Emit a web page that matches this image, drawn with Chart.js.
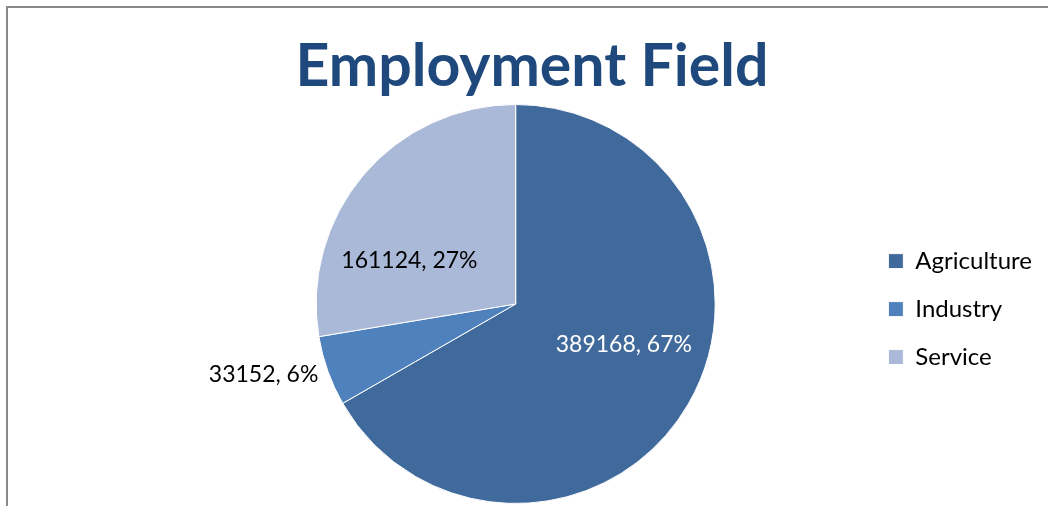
<!DOCTYPE html>
<html>
<head>
<meta charset="utf-8">
<title>Employment Field</title>
<script src="https://cdn.jsdelivr.net/npm/chart.js@4.4.1/dist/chart.umd.min.js"></script>
<style>
  html, body { margin: 0; padding: 0; background: #fff; overflow: hidden; }
  .frame { position: relative; width: 1048px; height: 506px; overflow: hidden; }
  /* chart border, only the top and left edges fall inside the view */
  .frame::before {
    content: "";
    position: absolute;
    left: 6px;
    top: 6px;
    width: 1100px;
    height: 600px;
    border-left: 2px solid #898989;
    border-top: 2px solid #898989;
  }
  canvas { position: absolute; left: 0; top: 0; }
</style>
</head>
<body>
<div class="frame"><canvas id="chart" width="1048" height="506"></canvas></div>
<script>
const categories = ['Agriculture', 'Industry', 'Service'];
const workers = [389168, 33152, 161124];
const sliceColors = ['#416A9C', '#4F81BD', '#AAB9D7'];

// whole percentages that still add up to 100 (largest remainder)
function wholePercents(values) {
  const total = values.reduce((a, b) => a + b, 0);
  const raw = values.map(v => v / total * 100);
  const out = raw.map(Math.floor);
  const left = 100 - out.reduce((a, b) => a + b, 0);
  raw.map((r, i) => [r - out[i], i])
    .sort((a, b) => b[0] - a[0])
    .slice(0, left)
    .forEach(([, i]) => out[i]++);
  return out;
}

// big heading, centred on the whole chart frame rather than on the pie
const heading = {
  id: 'heading',
  afterDraw(chart, args, opts) {
    const ctx = chart.ctx;
    ctx.save();
    ctx.font = opts.font;
    ctx.fillStyle = opts.color;
    ctx.textAlign = 'center';
    ctx.textBaseline = 'alphabetic';
    ctx.fillText(opts.text, opts.x, opts.y);
    ctx.restore();
  }
};

// "value, pct%" labels, inside the big slices and outside the thin one
const sliceLabels = {
  id: 'sliceLabels',
  afterDatasetsDraw(chart, args, opts) {
    const ctx = chart.ctx;
    const values = chart.data.datasets[0].data;
    const pct = wholePercents(values);
    ctx.save();
    ctx.font = opts.font;
    ctx.textBaseline = 'middle';
    chart.getDatasetMeta(0).data.forEach((arc, i) => {
      const { x, y, startAngle, endAngle, outerRadius } =
        arc.getProps(['x', 'y', 'startAngle', 'endAngle', 'outerRadius'], true);
      const mid = (startAngle + endAngle) / 2;
      const cos = Math.cos(mid);
      const sin = Math.sin(mid);
      let px, py;
      if (opts.outside[i]) {
        px = x + cos * (outerRadius + opts.gap);
        py = y + sin * (outerRadius + opts.gap);
        ctx.textAlign = cos < 0 ? 'right' : 'left';
      } else {
        const [dx, dy] = opts.nudge[i];
        px = x + cos * outerRadius * 0.58 + dx;
        py = y + sin * outerRadius * 0.58 + dy;
        ctx.textAlign = 'center';
      }
      ctx.fillStyle = opts.colors[i];
      ctx.fillText(values[i] + ', ' + pct[i] + '%', px, py);
    });
    ctx.restore();
  }
};

new Chart(document.getElementById('chart'), {
  type: 'pie',
  data: {
    labels: categories,
    datasets: [{
      data: workers,
      backgroundColor: sliceColors,
      borderColor: '#fff',
      borderWidth: 1
    }]
  },
  options: {
    responsive: false,
    animation: false,
    layout: { padding: { left: 167, right: 6, top: 104, bottom: 2 } },
    plugins: {
      title: { display: false },
      legend: {
        position: 'right',
        fullSize: false,
        // empty title only pushes the entries down a little
        title: { display: true, text: '', font: { size: 1 }, padding: { top: 9, bottom: 0 } },
        labels: {
          color: '#000',
          font: { family: 'Lato', size: 24 },
          boxWidth: 15,
          boxHeight: 15,
          padding: 24
        }
      },
      tooltip: { enabled: false },
      heading: {
        text: 'Employment Field',
        font: 'bold 59px Lato',
        color: '#1F497D',
        x: 532,
        y: 86
      },
      sliceLabels: {
        font: '23px Lato',
        gap: 10,
        outside: [false, true, false],
        colors: ['#fff', '#000', '#000'],
        nudge: [[8, -17], [0, 0], [-18, 31]]
      }
    }
  },
  plugins: [heading, sliceLabels]
});
</script>
</body>
</html>
